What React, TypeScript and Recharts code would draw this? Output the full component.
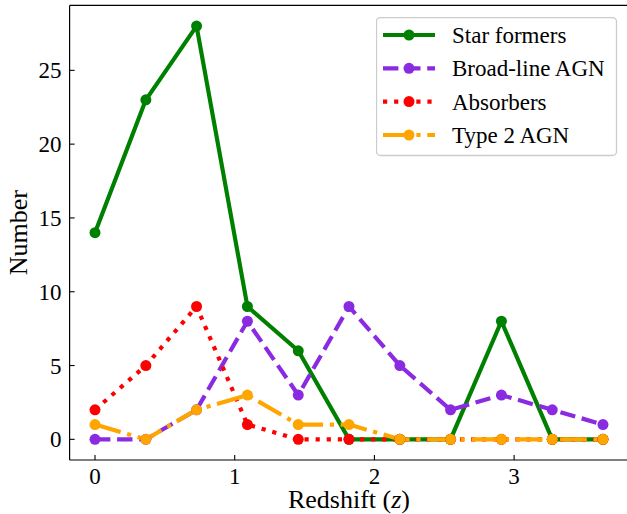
import { LineChart, Line, XAxis, YAxis, Legend } from 'recharts';

// redshift bin centres and counts per population
const redshift = [0, 0.364, 0.727, 1.091, 1.455, 1.818, 2.182, 2.545, 2.909, 3.273, 3.636];
const starFormers = [14, 23, 28, 9, 6, 0, 0, 0, 8, 0, 0];
const broadLineAGN = [0, 0, 2, 8, 3, 9, 5, 2, 3, 2, 1];
const absorbers = [2, 5, 9, 1, 0, 0, 0, 0, 0, 0, 0];
const type2AGN = [1, 0, 2, 3, 1, 1, 0, 0, 0, 0, 0];

const xTicks = [0, 1, 2, 3];
const yTicks = [0, 5, 10, 15, 20, 25];

const FONT = '"Liberation Serif", "DejaVu Serif", serif';
const LW = 4.17;

// plot box in page pixels
const PLOT_LEFT = 69.6;
const PLOT_RIGHT = 628.4;
const PLOT_TOP = 5.4;
const PLOT_BOTTOM = 460;
const CHART_W = 640;
const CHART_H = 514;

const series = [
  { key: 'star', name: 'Star formers', color: '#008000', dash: undefined as string | undefined },
  { key: 'bl', name: 'Broad-line AGN', color: '#8a2be2', dash: '15.4 6.7' },
  { key: 'abs', name: 'Absorbers', color: '#ff0000', dash: '4.2 6.9' },
  { key: 't2', name: 'Type 2 AGN', color: '#ffa500', dash: '26.7 6.7 4.2 6.7' },
];

const data = redshift.map((z, i) => ({
  z,
  star: starFormers[i],
  bl: broadLineAGN[i],
  abs: absorbers[i],
  t2: type2AGN[i],
}));

function XTick({ x, payload }: any) {
  return (
    <g>
      <line x1={x} x2={x} y1={PLOT_BOTTOM} y2={PLOT_BOTTOM - 5} stroke="#000" strokeWidth={1.1} />
      <text x={x} y={PLOT_BOTTOM + 24} textAnchor="middle" fontFamily={FONT} fontSize={23} fill="#000">
        {payload.value}
      </text>
    </g>
  );
}

function YTick({ y, payload }: any) {
  return (
    <g>
      <line x1={PLOT_LEFT} x2={PLOT_LEFT + 5} y1={y} y2={y} stroke="#000" strokeWidth={1.1} />
      <text x={PLOT_LEFT - 8} y={y + 8} textAnchor="end" fontFamily={FONT} fontSize={23} fill="#000">
        {payload.value}
      </text>
    </g>
  );
}

function LegendBox() {
  const rows = [18, 51.3, 84.6, 118];
  return (
    <svg width={242} height={140} style={{ display: 'block' }}>
      <rect x={0.5} y={0.5} width={240} height={138} rx={4} fill="#fff" fillOpacity={0.8} stroke="#cccccc" strokeWidth={1.3} />
      {series.map((s, i) => (
        <g key={s.key}>
          <line x1={7} x2={59} y1={rows[i]} y2={rows[i]} stroke={s.color} strokeWidth={LW} strokeDasharray={s.dash} />
          <circle cx={33} cy={rows[i]} r={5.5} fill={s.color} />
          <text x={76} y={rows[i] + 8} fontFamily={FONT} fontSize={23} fill="#000">
            {s.name}
          </text>
        </g>
      ))}
    </svg>
  );
}

export default function App() {
  const midX = (PLOT_LEFT + PLOT_RIGHT) / 2;
  const midY = (PLOT_TOP + PLOT_BOTTOM) / 2;
  return (
    <div style={{ position: 'absolute', left: 0, top: 0, width: 627, height: 514, overflow: 'hidden', background: '#fff' }}>
      <LineChart
        width={CHART_W}
        height={CHART_H}
        data={data}
        margin={{ top: 0, right: CHART_W - PLOT_RIGHT, bottom: 0, left: 0 }}
      >
        <XAxis
          dataKey="z"
          type="number"
          domain={[-0.1818, 3.818]}
          allowDataOverflow
          ticks={xTicks}
          interval={0}
          height={CHART_H - PLOT_BOTTOM}
          tickSize={0}
          tickMargin={0}
          tickLine={false}
          axisLine={{ stroke: '#000', strokeWidth: 1.2 }}
          tick={<XTick />}
          label={{
            content: () => (
              <text x={midX} y={508} textAnchor="middle" fontFamily={FONT} fontSize={26} fill="#000">
                Redshift (<tspan fontStyle="italic">z</tspan>)
              </text>
            ),
          }}
        />
        <XAxis
          xAxisId="top"
          orientation="top"
          type="number"
          domain={[-0.1818, 3.818]}
          height={PLOT_TOP}
          tick={false}
          tickLine={false}
          axisLine={{ stroke: '#000', strokeWidth: 1.2 }}
        />
        <YAxis
          type="number"
          domain={[-1.4, 29.4]}
          allowDataOverflow
          ticks={yTicks}
          interval={0}
          width={PLOT_LEFT}
          tickSize={0}
          tickMargin={0}
          tickLine={false}
          axisLine={{ stroke: '#000', strokeWidth: 1.2 }}
          tick={<YTick />}
          label={{
            content: () => (
              <text
                x={27}
                y={midY}
                transform={`rotate(-90 27 ${midY})`}
                textAnchor="middle"
                fontFamily={FONT}
                fontSize={26}
                fill="#000"
              >
                Number
              </text>
            ),
          }}
        />
        {series.map((s) => (
          <Line
            key={s.key}
            dataKey={s.key}
            name={s.name}
            type="linear"
            stroke={s.color}
            strokeWidth={LW}
            strokeDasharray={s.dash}
            strokeLinejoin="round"
            dot={{ r: 5.5, fill: s.color, stroke: s.color, strokeWidth: 0, strokeDasharray: 'none' }}
            activeDot={false}
            isAnimationActive={false}
          />
        ))}
        <Legend
          layout="vertical"
          align="center"
          verticalAlign="middle"
          wrapperStyle={{ left: 376, top: 17, width: 242, height: 140 }}
          content={() => <LegendBox />}
        />
      </LineChart>
    </div>
  );
}
